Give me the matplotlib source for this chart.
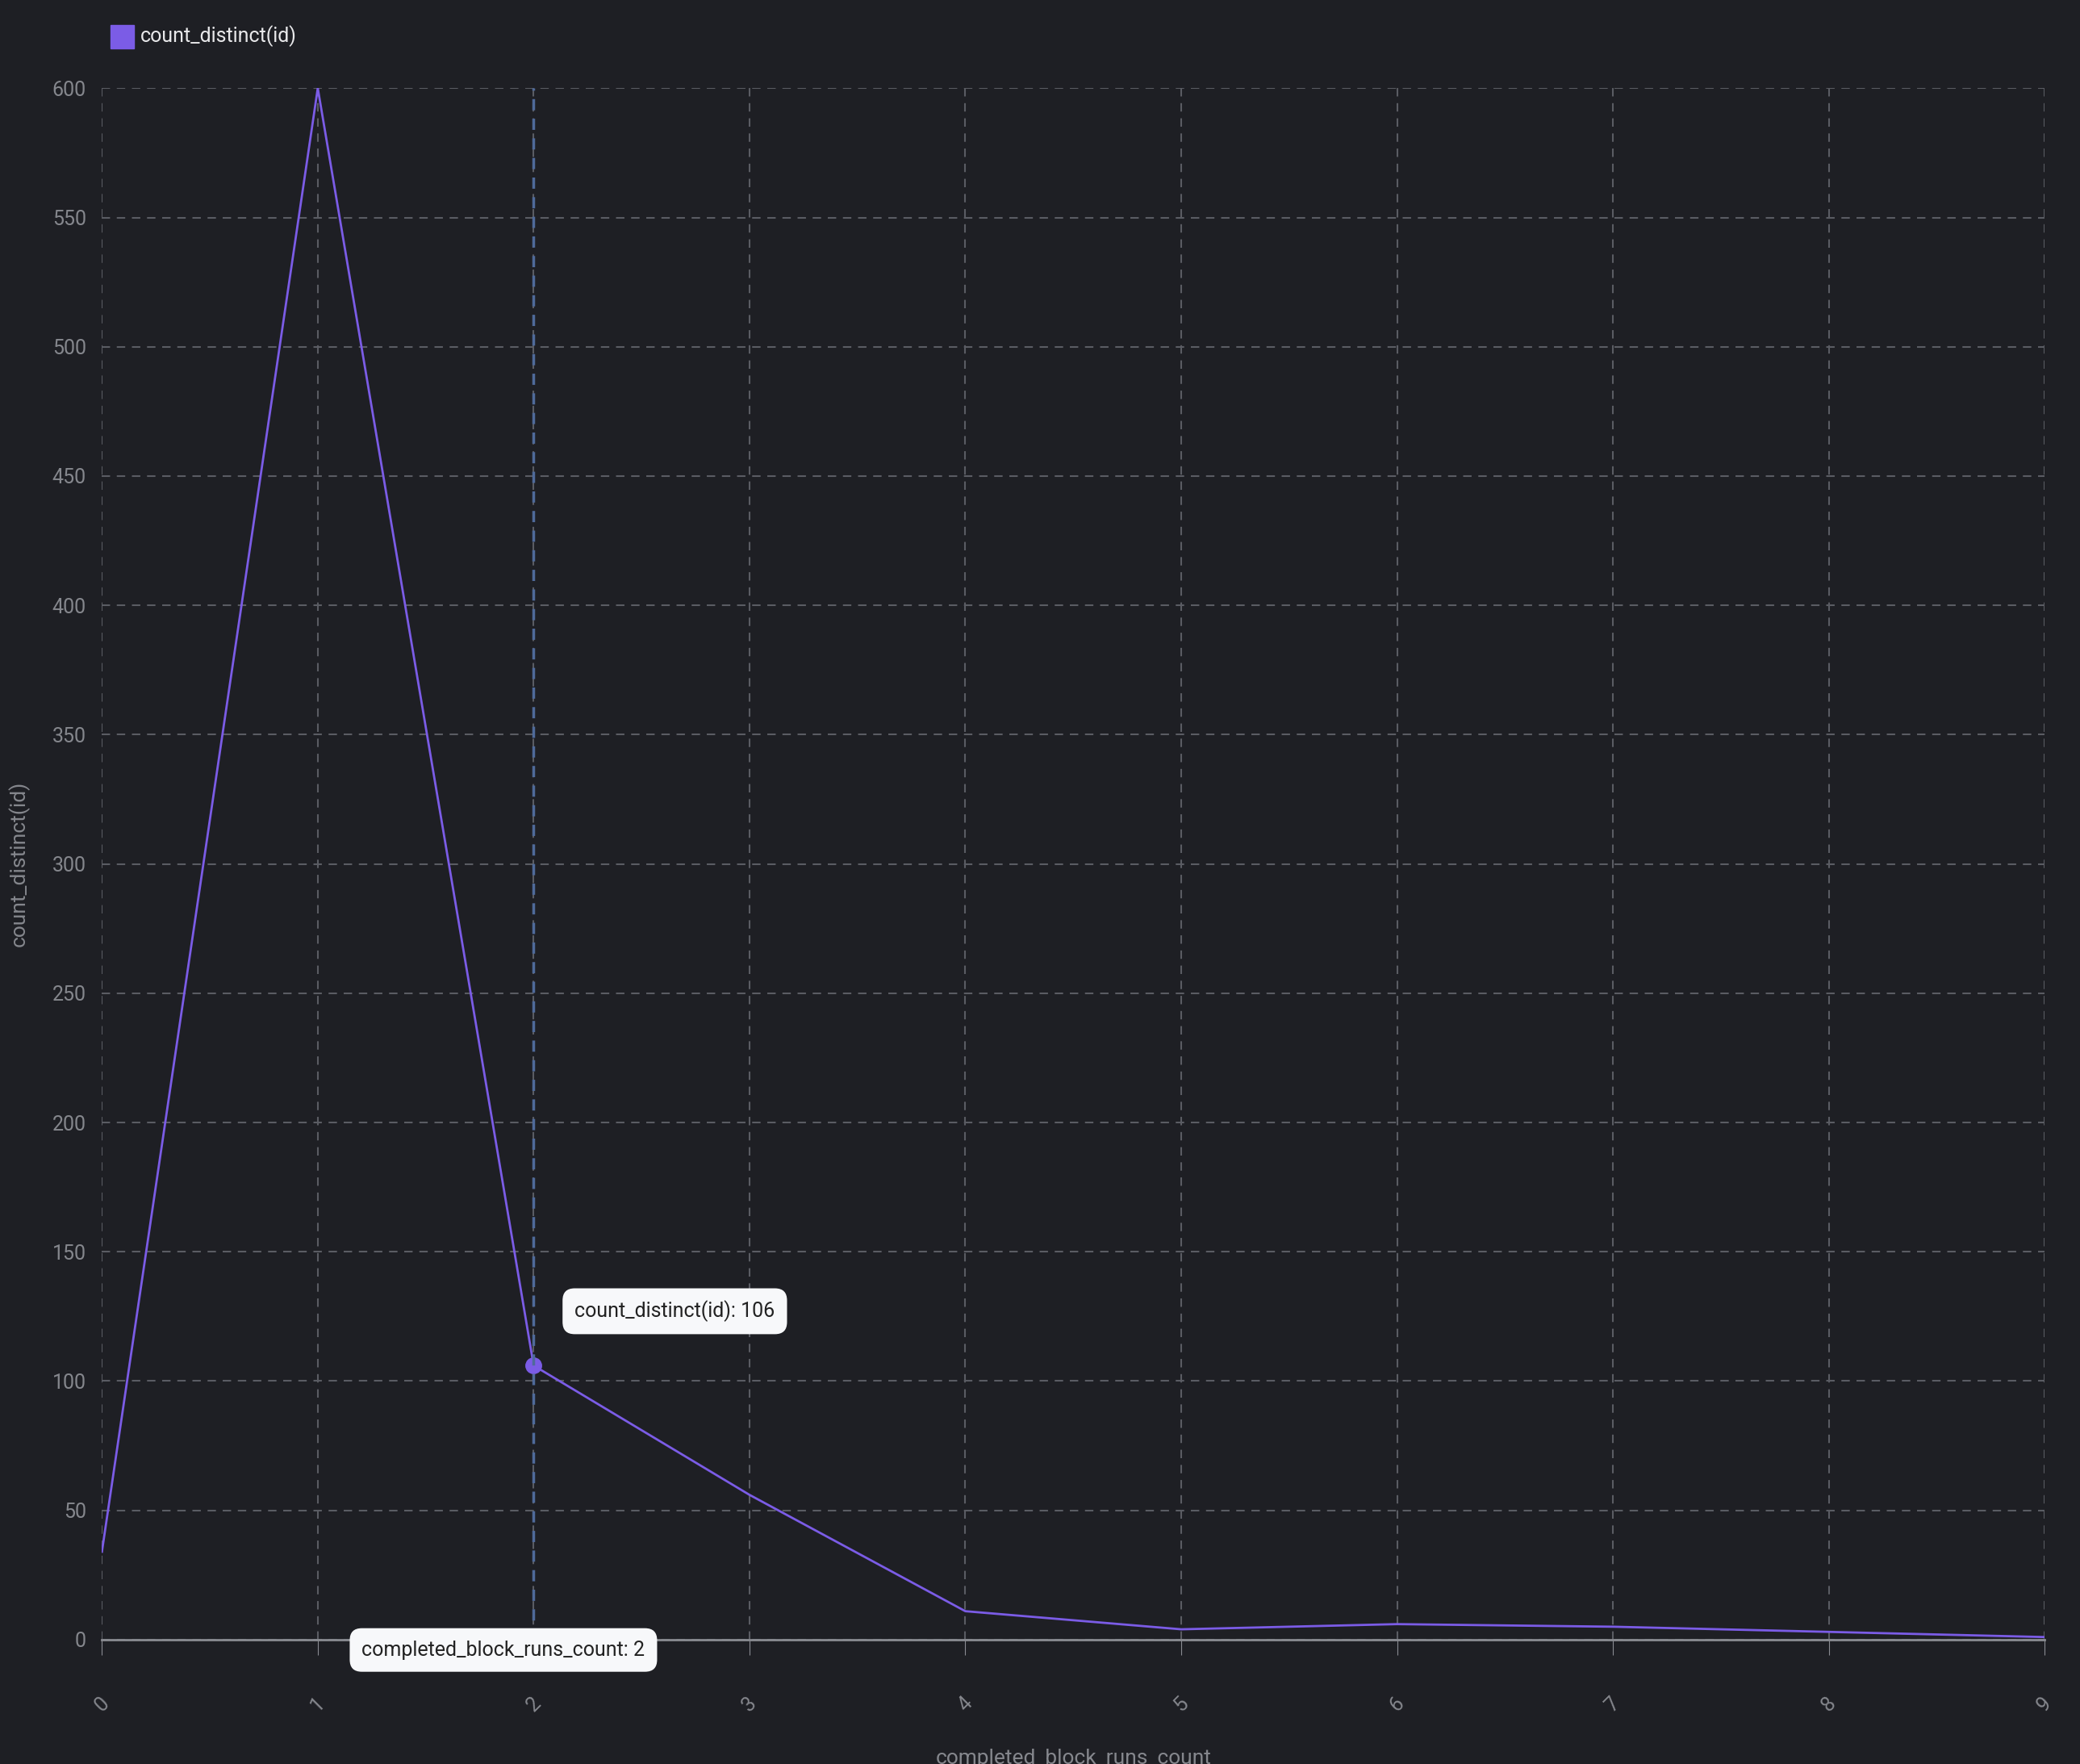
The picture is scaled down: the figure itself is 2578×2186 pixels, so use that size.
import matplotlib
matplotlib.use("Agg")
import matplotlib.pyplot as plt
from matplotlib.patches import Rectangle

plt.rcParams['font.family'] = ['Roboto', 'DejaVu Sans']

x_values = [0, 1, 2, 3, 4, 5, 6, 7, 8, 9]
counts = [34, 600, 106, 56, 11, 4, 6, 5, 3, 1]
series_name = "count_distinct(id)"
x_label = "completed_block_runs_count"

bg = "#1e1f24"
line_c = "#7b5ce6"
grid_c = "#5a5c63"
text_c = "#85878d"

fig = plt.figure(figsize=(25.78, 21.86), dpi=100, facecolor=bg)
ax = fig.add_axes([0.049, 0.0705, 0.934, 0.8795], facecolor=bg)

ax.plot(x_values, counts, color=line_c, lw=2)
ax.plot([x_values[2]], [counts[2]], 'o', color=line_c, ms=14)
ax.axvline(x_values[2], color="#4f6a9a", lw=2.5, ls=(0, (4, 3)))

ax.set_xlim(0, 9)
ax.set_ylim(0, 600)
ax.set_xticks(x_values)
ax.set_yticks(range(0, 601, 50))
ax.grid(True, color=grid_c, ls=(0, (5, 4)), lw=1.5)
for s in ["top", "right", "left"]:
    ax.spines[s].set_visible(False)
ax.spines["bottom"].set_color("#8a8c92")
ax.spines["bottom"].set_linewidth(2)
ax.tick_params(axis='y', length=0, labelsize=18, labelcolor=text_c, pad=14)
ax.tick_params(axis='x', length=14, color="#8a8c92", labelsize=18, labelcolor=text_c, pad=34)
for lab in ax.get_xticklabels():
    lab.set_rotation(45)
ax.set_xlabel(x_label, fontsize=19, color=text_c, labelpad=30)
ax.set_ylabel(series_name, fontsize=19, color=text_c, labelpad=20)

# tooltips
ax.text(2.19, 127, f"{series_name}: {counts[2]}", fontsize=18, color="#222",
        ha='left', va='center',
        bbox=dict(boxstyle="round,pad=0.6", fc="#f7f8fa", ec="none"))
ax.text(1.86, -4, f"{x_label}: {x_values[2]}", fontsize=18, color="#222",
        ha='center', va='center', clip_on=False,
        bbox=dict(boxstyle="round,pad=0.6", fc="#f7f8fa", ec="none"))

# legend
fig.patches.append(Rectangle((0.053, 0.9725), 0.0115, 0.0135, transform=fig.transFigure,
                             color=line_c))
fig.text(0.0676, 0.9795, series_name, fontsize=18, color="#e8e8ea", va='center')

fig.savefig("out.png", dpi=100, facecolor=bg)
